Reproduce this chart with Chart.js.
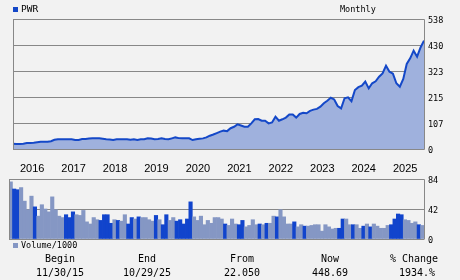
<!DOCTYPE html>
<html>
<head>
<meta charset="utf-8">
<script src="https://cdn.jsdelivr.net/npm/chart.js@4"></script>
<style>
  body { margin: 0; background: #f2f2f2; }
  #wrap { position: relative; width: 460px; height: 280px; overflow: hidden; }
  canvas { position: absolute; left: 0; top: 0; }
  .t { position: absolute; font-family: "DejaVu Sans Mono", monospace; color: #000; white-space: nowrap; line-height: 1; }
  .c { transform: translate(-50%, -50%); font-size: 10px; }
  .l { transform: translateY(-50%); font-size: 8.5px; }
  .sq { position: absolute; width: 5px; height: 5px; }
</style>
</head>
<body>
<div id="wrap">
  <canvas id="price" width="460" height="280"></canvas>
  <canvas id="volume" width="460" height="280"></canvas>

  <div class="sq" style="left:13px;top:7px;background:#1448c8"></div>
  <div class="t l" style="left:21px;top:9px;font-size:9.5px">PWR</div>
  <div class="t l" style="left:340px;top:9px">Monthly</div>

  <div class="sq" style="left:13px;top:243px;background:#8597c4"></div>
  <div class="t l" style="left:21px;top:245px">Volume/1000</div>

  <div class="t c" style="left:60px;top:259px">Begin</div>
  <div class="t c" style="left:60px;top:273px">11/30/15</div>
  <div class="t c" style="left:147px;top:259px">End</div>
  <div class="t c" style="left:147px;top:273px">10/29/25</div>
  <div class="t c" style="left:242px;top:259px">From</div>
  <div class="t c" style="left:242px;top:273px">22.050</div>
  <div class="t c" style="left:330px;top:259px">Now</div>
  <div class="t c" style="left:330px;top:273px">448.69</div>
  <div class="t c" style="left:414px;top:259px">% Change</div>
  <div class="t c" style="left:417px;top:273px">1934.%</div>
</div>

<script>
// monthly closes, Nov 2015 .. Oct 2025
const price = [
  22.05, 21, 21, 22, 25, 25, 26, 28, 30, 30,
  30, 32, 38, 40, 40, 40, 40, 40, 37, 37,
  41, 41, 43, 44, 44, 44, 42, 40, 39, 37,
  40, 40, 40, 40, 38, 40, 37, 40, 40, 44,
  43, 40, 41, 44, 41, 40, 44, 48, 45, 44,
  44, 44, 37, 40, 42, 44, 48, 55, 60, 66,
  72, 76, 74, 86, 92, 102, 97, 92, 92, 106,
  123, 124, 117, 117, 106, 110, 134, 117, 123, 130,
  143, 143, 130, 145, 150, 148, 158, 163, 166, 175,
  189, 200, 212, 205, 178, 168, 210, 214, 198, 244,
  256, 262, 279, 251, 272, 280, 299, 313, 345, 320,
  312, 272, 258, 290, 352, 375, 407, 382, 420, 448.69
];

// volume in thousands
const volume = [
  80, 70, 69, 72, 53, 41, 60, 45, 32, 48,
  42, 38, 59, 41, 32, 30, 34, 30, 38, 34,
  33, 40, 24, 21, 30, 27, 26, 34, 34, 22,
  27, 26, 25, 34, 21, 30, 28, 31, 30, 30,
  27, 25, 33, 27, 20, 34, 26, 30, 25, 27,
  21, 28, 52, 31, 26, 32, 20, 26, 22, 30,
  30, 28, 21, 19, 28, 21, 20, 26, 17, 19,
  27, 20, 21, 20, 22, 22, 32, 31, 41, 31,
  21, 21, 24, 17, 20, 18, 18, 19, 20, 20,
  11, 20, 17, 14, 15, 15, 28, 28, 20, 20,
  20, 15, 18, 21, 17, 21, 18, 15, 15, 19,
  20, 28, 35, 34, 27, 26, 22, 24, 20, 19
];

// months drawn in dark blue (down months)
const downMonths = [1, 2, 7, 16, 17, 18, 26, 27, 28, 29, 31, 34, 35, 37, 42, 44, 45,
  48, 49, 50, 51, 52, 62, 66, 67, 72, 74, 77, 82, 85, 95, 96, 99, 102, 104,
  110, 111, 112, 113, 118];

const years = ['2016', '2017', '2018', '2019', '2020', '2021', '2022', '2023', '2024', '2025'];
const priceTicks = [0, 107.6, 215.2, 322.8, 430.4, 538];
const priceTickLabels = ['0', '107', '215', '323', '430', '538'];
const volTicks = [0, 42, 84];
const volTickLabels = ['0', '42', '84'];

const firstMonth = 10; // November (0-based)
const months = price.map((v, i) => {
  const m = firstMonth + i;
  return (2015 + Math.floor(m / 12)) + '-' + (m % 12 + 1);
});

const GRID = '#888888';

Chart.defaults.font.family = '"DejaVu Sans Mono", monospace';
Chart.defaults.color = '#000';

// plot frame lines
const frame = {
  id: 'frame',
  afterDatasetsDraw(chart, args, opts) {
    const { ctx, chartArea: a } = chart;
    const l = Math.round(a.left) + 0.5, r = Math.round(a.right) + 0.5;
    const t = Math.round(a.top) + 0.5, b = Math.round(a.bottom) + 0.5;
    ctx.save();
    ctx.strokeStyle = GRID;
    ctx.lineWidth = 1;
    ctx.beginPath();
    ctx.moveTo(l, b); ctx.lineTo(l, t); ctx.lineTo(r, t); ctx.lineTo(r, b);
    if (opts.bottom) ctx.lineTo(l, b);
    ctx.stroke();
    ctx.restore();
  }
};

new Chart(document.getElementById('price'), {
  type: 'line',
  data: {
    labels: months,
    datasets: [{
      data: price,
      borderColor: '#1448c8',
      borderWidth: 2,
      backgroundColor: '#9fb1dd',
      fill: 'origin',
      pointRadius: 0,
      tension: 0
    }]
  },
  options: {
    responsive: false,
    animation: false,
    devicePixelRatio: 1,
    layout: { padding: { left: 9, top: 19, right: 0, bottom: 100 } },
    plugins: { legend: { display: false }, tooltip: { enabled: false }, frame: { bottom: true } },
    scales: {
      x: {
        grid: { display: false, drawTicks: false },
        border: { display: false },
        ticks: {
          autoSkip: false,
          maxRotation: 0,
          align: 'start',
          padding: 13,
          font: { family: '"Liberation Sans", Arial, sans-serif', size: 11 },
          callback: (v, i) => ((firstMonth + i) % 12 === 0 ? years[Math.floor((firstMonth + i) / 12) - 1] : '')
        },
        afterFit(a) { a.height = 31; }
      },
      y: {
        position: 'right',
        min: 0,
        max: 538,
        afterBuildTicks(a) { a.ticks = priceTicks.map(v => ({ value: v })); },
        ticks: { padding: 4, labelOffset: 2, font: { size: 8.5 }, callback: (v, i) => priceTickLabels[i] },
        grid: { color: GRID, drawTicks: false },
        border: { display: false },
        afterFit(a) { a.width = 36; }
      }
    }
  },
  plugins: [frame]
});

new Chart(document.getElementById('volume'), {
  type: 'bar',
  data: {
    labels: months,
    datasets: [{
      data: volume,
      backgroundColor: volume.map((v, i) => downMonths.includes(i) ? '#1144cc' : '#8597c4'),
      borderWidth: 0,
      barPercentage: 1,
      categoryPercentage: 1
    }]
  },
  options: {
    responsive: false,
    animation: false,
    devicePixelRatio: 1,
    layout: { padding: { left: 9, top: 179, right: 0, bottom: 41 } },
    plugins: { legend: { display: false }, tooltip: { enabled: false }, frame: { bottom: false } },
    scales: {
      x: { display: false },
      y: {
        position: 'right',
        min: 0,
        max: 84,
        afterBuildTicks(a) { a.ticks = volTicks.map(v => ({ value: v })); },
        ticks: { padding: 4, labelOffset: 2, font: { size: 8.5 }, callback: (v, i) => volTickLabels[i] },
        grid: { color: GRID, drawTicks: false },
        border: { display: false },
        afterFit(a) { a.width = 36; }
      }
    }
  },
  plugins: [frame]
});
</script>
</body>
</html>
